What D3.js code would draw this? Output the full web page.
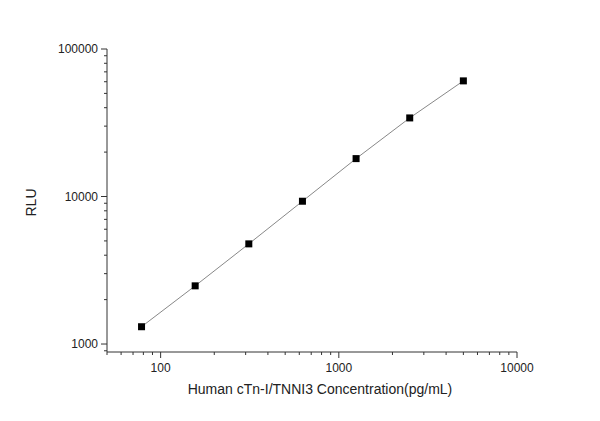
<html>
<head>
<script src="https://cdn.jsdelivr.net/npm/d3@7"></script>
<style>body{margin:0;background:#fff;} text{font-family:"Liberation Sans",Arial,sans-serif;}</style>
</head>
<body>
<div id="chart"></div>
<script>
// concentration (pg/mL) and signal
const conc = [78.125, 156.25, 312.5, 625, 1250, 2500, 5000];
const rlu = [1310, 2480, 4775, 9290, 18070, 34100, 60800];
const xTicks = [100, 1000, 10000];
const yTicks = [1000, 10000, 100000];

const svg = d3.select("#chart").append("svg").attr("width", 600).attr("height", 421);
const pLeft = 107, pRight = 517, pTop = 49, pBottom = 352;

const x = d3.scaleLog().domain([50, 10000]).range([pLeft, pRight]);
const y = d3.scaleLog().domain([883, 100000]).range([pBottom, pTop]);

const xMinor = x.ticks().filter(v => !xTicks.includes(v));
const yMinor = y.ticks().filter(v => !yTicks.includes(v));

const g = svg.append("g").attr("font-size", 12);

// bottom axis
const xa = g.append("g").attr("transform", `translate(0,${pBottom})`);
xa.append("line").attr("x1", pLeft).attr("x2", pRight).attr("stroke", "#333");
xa.selectAll(".mj").data(xTicks).enter().append("line")
  .attr("x1", d => x(d)).attr("x2", d => x(d)).attr("y2", 6).attr("stroke", "#333");
xa.selectAll(".mn").data(xMinor).enter().append("line")
  .attr("x1", d => x(d)).attr("x2", d => x(d)).attr("y2", 3).attr("stroke", "#333");
xa.selectAll("text").data(xTicks).enter().append("text")
  .attr("x", d => x(d)).attr("y", 20).attr("text-anchor", "middle").attr("fill", "#222").text(d => d);

// left axis
const ya = g.append("g").attr("transform", `translate(${pLeft},0)`);
ya.append("line").attr("y1", pTop).attr("y2", pBottom).attr("stroke", "#333");
ya.selectAll(".mj").data(yTicks).enter().append("line")
  .attr("y1", d => y(d)).attr("y2", d => y(d)).attr("x2", -6).attr("stroke", "#333");
ya.selectAll(".mn").data(yMinor).enter().append("line")
  .attr("y1", d => y(d)).attr("y2", d => y(d)).attr("x2", -3).attr("stroke", "#333");
ya.selectAll("text").data(yTicks).enter().append("text")
  .attr("x", -9).attr("y", d => y(d) + 4).attr("text-anchor", "end").attr("fill", "#222").text(d => d);

// titles
svg.append("text").attr("x", (pLeft + pRight) / 2 + 8).attr("y", 394).attr("text-anchor", "middle")
  .attr("font-size", 14).attr("fill", "#222").text("Human cTn-I/TNNI3 Concentration(pg/mL)");
svg.append("text").attr("transform", `translate(36,${(pTop + pBottom) / 2 + 2}) rotate(-90)`)
  .attr("text-anchor", "middle").attr("font-size", 14).attr("fill", "#222").text("RLU");

// curve and points
const pts = conc.map((c, i) => [c, rlu[i]]);
svg.append("path").datum(pts)
  .attr("d", d3.line().x(d => x(d[0])).y(d => y(d[1])))
  .attr("fill", "none").attr("stroke", "#888").attr("stroke-width", 1);
svg.selectAll(".pt").data(pts).enter().append("rect")
  .attr("x", d => x(d[0]) - 3.5).attr("y", d => y(d[1]) - 3.5)
  .attr("width", 7).attr("height", 7).attr("fill", "#000");
</script>
</body>
</html>
